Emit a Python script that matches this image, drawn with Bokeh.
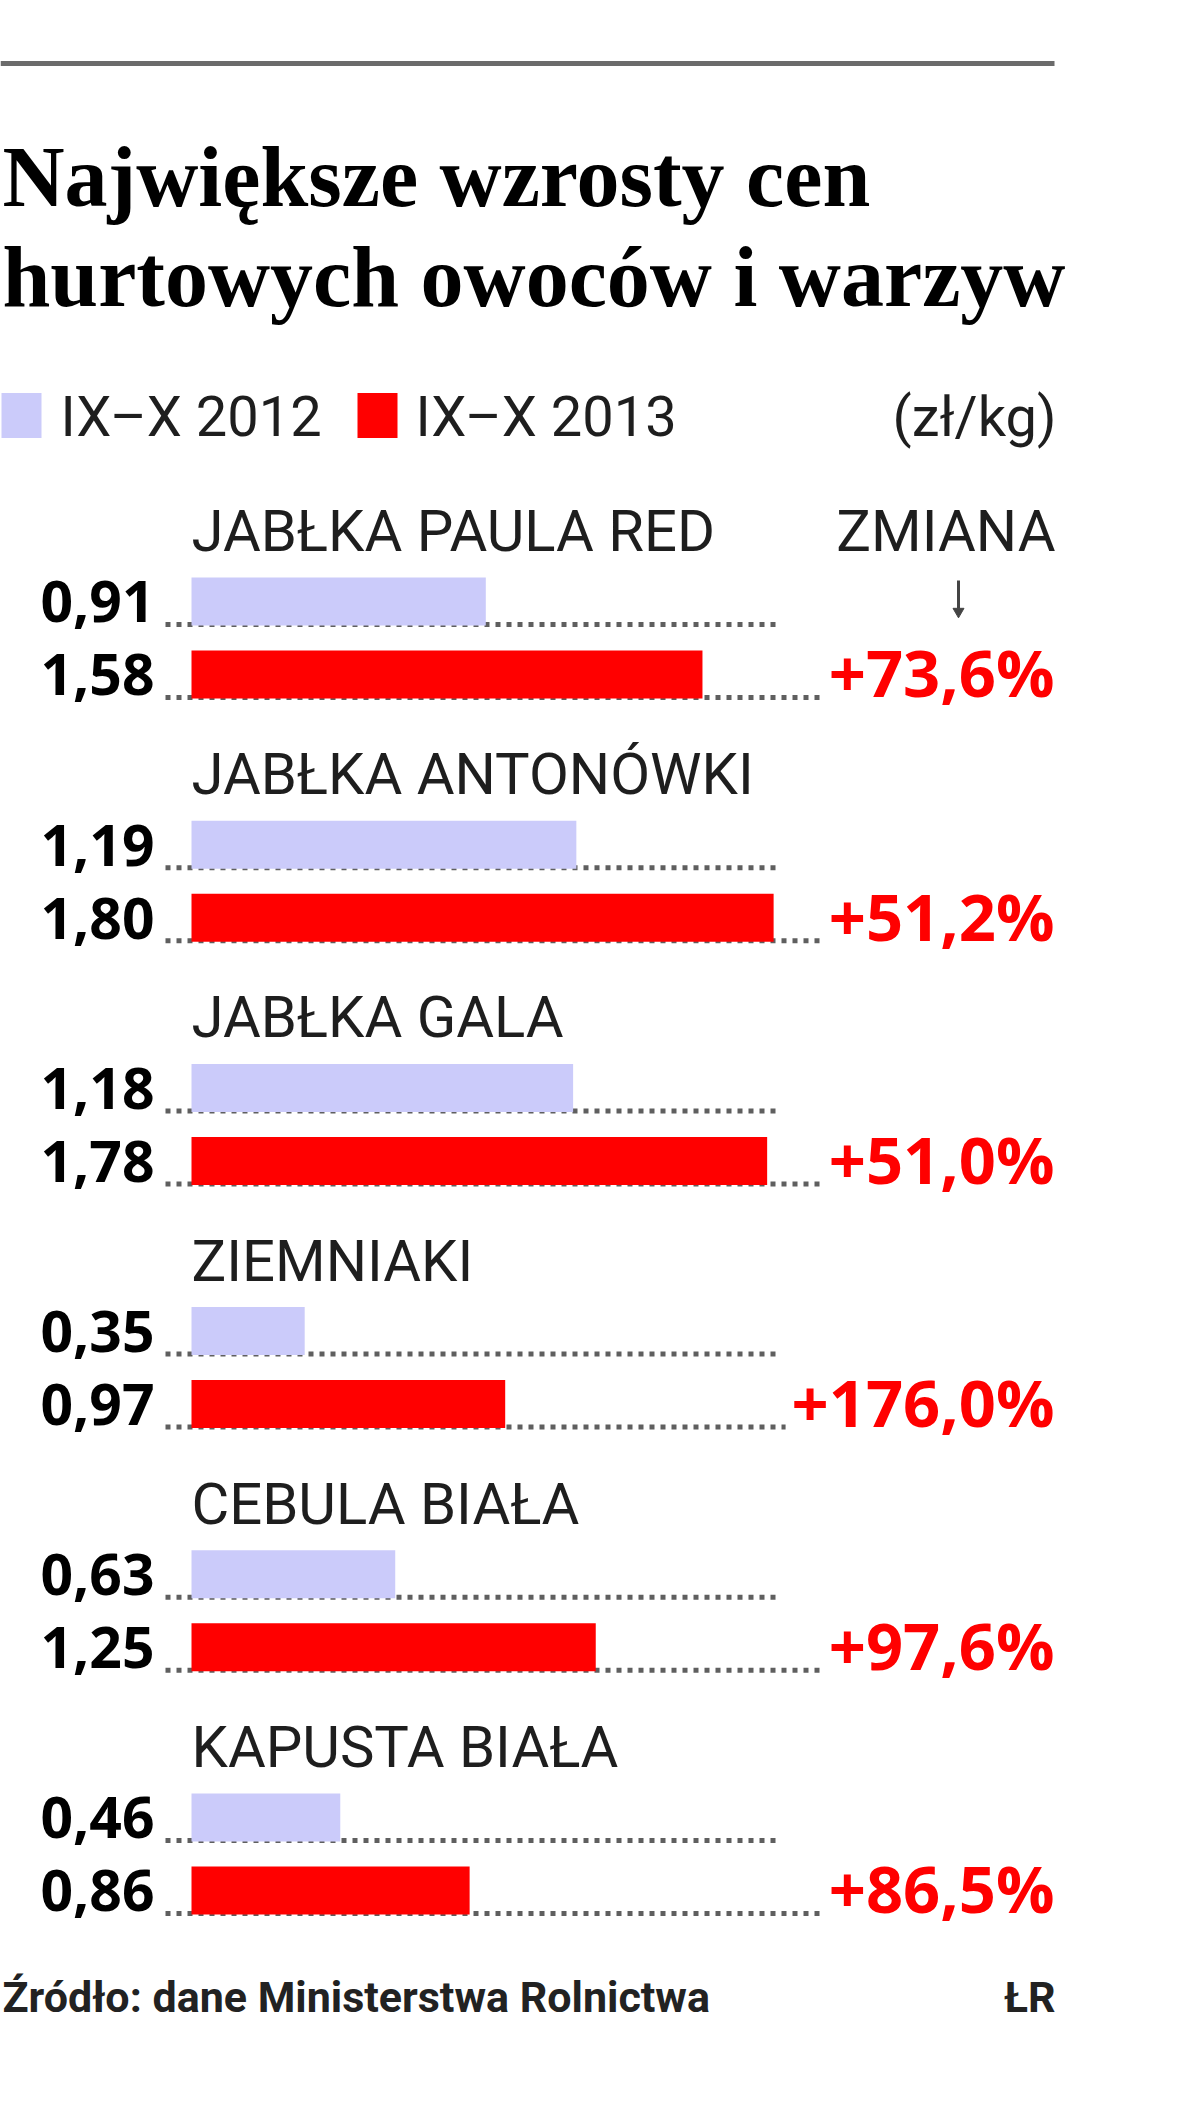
from bokeh.plotting import figure
from bokeh.models import Range1d, ColumnDataSource
from bokeh.core.properties import value
from bokeh.embed import file_html
from bokeh.resources import INLINE

# ---------------- data ----------------
categories = ["JABŁKA PAULA RED", "JABŁKA ANTONÓWKI", "JABŁKA GALA",
              "ZIEMNIAKI", "CEBULA BIAŁA", "KAPUSTA BIAŁA"]
prices_2012 = [0.91, 1.19, 1.18, 0.35, 0.63, 0.46]
prices_2013 = [1.58, 1.80, 1.78, 0.97, 1.25, 0.86]
change_pct = [73.6, 51.2, 51.0, 176.0, 97.6, 86.5]
legend_labels = ["IX–X 2012", "IX–X 2013"]
title_lines = ["Największe wzrosty cen", "hurtowych owoców i warzyw"]
unit_label = "(zł/kg)"
change_header = "ZMIANA"
source_note = "Źródło: dane Ministerstwa Rolnictwa"
credit = "ŁR"

# ---------------- layout helpers ----------------
W, H = 1184, 2090
PX_PER_UNIT = 323.4
ZERO_X = 191


def X(px):
    return (px - ZERO_X) / PX_PER_UNIT


def BL(baseline, fs):
    # compensate renderer's baseline offset
    return baseline - 0.37 * fs


LIGHT = "#cbcbfa"
RED = "#ff0000"
DARK = "#1e1e1e"

p = figure(width=W, height=H, output_backend="svg", toolbar_location=None,
           x_range=Range1d(X(0), X(W)), y_range=Range1d(H, 0),
           min_border=0, outline_line_color=None)
p.axis.visible = False
p.grid.visible = False
p.background_fill_color = "white"
p.border_fill_color = "white"

pitch = 243.2
n = len(categories)
label_y = [552 + i * pitch for i in range(n)]
light_c = [601 + i * pitch for i in range(n)]
red_c = [674 + i * pitch for i in range(n)]
BAR_H = 48

FS_CAT, FS_VAL, FS_PCT = 58, 57, 65

src = ColumnDataSource(dict(
    cat=categories, v12=prices_2012, v13=prices_2013,
    lab12=[f"{v:.2f}".replace(".", ",") for v in prices_2012],
    lab13=[f"{v:.2f}".replace(".", ",") for v in prices_2013],
    pct=[f"+{c:.1f}%".replace(".", ",") for c in change_pct],
    ly=[BL(y, FS_CAT) for y in label_y], y12=light_c, y13=red_c,
    d12=[y + BAR_H / 2 - 1 for y in light_c],
    d13=[y + BAR_H / 2 - 1 for y in red_c],
    b12=[BL(y + 21.5, FS_VAL) for y in light_c],
    b13=[BL(y + 21.5, FS_VAL) for y in red_c],
    pb=[BL(y + 22, FS_PCT) for y in red_c],
))

# top rule
p.segment(x0=X(0), x1=X(1054), y0=63, y1=63, line_color="#6b6b6b", line_width=5)

# title
p.text(x=[X(2), X(2)], y=[BL(208, 86), BL(308, 86)], text=title_lines,
       text_font=value("Liberation Serif"), text_font_style="bold",
       text_font_size="86px", text_color="black", text_baseline="alphabetic")

# legend
p.rect(x=[X(21), X(377)], y=[415, 415], width=40 / PX_PER_UNIT, height=45,
       fill_color=[LIGHT, RED], line_color=None)
p.text(x=[X(60), X(415)], y=[BL(437, 56), BL(437, 56)], text=legend_labels,
       text_font=value("Roboto"), text_font_size="56px", text_color=DARK,
       text_baseline="alphabetic")
p.text(x=[X(1056)], y=[BL(437, 56)], text=[unit_label], text_font=value("Roboto"),
       text_font_size="56px", text_color=DARK, text_baseline="alphabetic",
       text_align="right")

# column header + arrow
p.text(x=[X(1055)], y=[BL(label_y[0], FS_CAT)], text=[change_header],
       text_font=value("Roboto"), text_font_size=f"{FS_CAT}px", text_color=DARK,
       text_baseline="alphabetic", text_align="right")
p.segment(x0=X(958), x1=X(958), y0=580, y1=608, line_color="#444444", line_width=3)
p.scatter(x=[X(958)], y=[611], marker="inverted_triangle", size=11,
          fill_color="#444444", line_color="#444444")

# dotted leader lines
p.segment(x0=X(165), x1=X(778), y0="d12", y1="d12", source=src,
          line_color="#5f5f5f", line_width=5, line_dash="5 6")
p.segment(x0=X(165), x1=X(1045), y0="d13", y1="d13", source=src,
          line_color="#5f5f5f", line_width=5, line_dash="5 6")

# bars
p.hbar(y="y12", left=0, right="v12", height=BAR_H, source=src,
       fill_color=LIGHT, line_color=None)
p.hbar(y="y13", left=0, right="v13", height=BAR_H, source=src,
       fill_color=RED, line_color=None)

# category labels
p.text(x=0, y="ly", text="cat", source=src, text_font=value("Roboto"),
       text_font_size=f"{FS_CAT}px", text_color=DARK, text_baseline="alphabetic")

# value labels
p.text(x=X(154), y="b12", text="lab12", source=src, text_font=value("Open Sans"),
       text_font_style="bold", text_font_size=f"{FS_VAL}px", text_color="black",
       text_align="right", text_baseline="alphabetic")
p.text(x=X(154), y="b13", text="lab13", source=src, text_font=value("Open Sans"),
       text_font_style="bold", text_font_size=f"{FS_VAL}px", text_color="black",
       text_align="right", text_baseline="alphabetic")

# change labels
p.text(x=X(1060), y="pb", text="pct", source=src, text_font=value("Open Sans"),
       text_font_style="bold", text_font_size=f"{FS_PCT}px", text_color=RED,
       text_align="right", text_baseline="alphabetic",
       background_fill_color="white", padding=6)

# footer
p.text(x=[X(2)], y=[BL(2012, 43)], text=[source_note], text_font=value("Roboto"),
       text_font_style="bold", text_font_size="43px", text_color="#222222",
       text_baseline="alphabetic")
p.text(x=[X(1055)], y=[BL(2012, 43)], text=[credit], text_font=value("Roboto"),
       text_font_style="bold", text_font_size="43px", text_color="#222222",
       text_baseline="alphabetic", text_align="right")

open("out.html", "w").write(file_html(p, INLINE))
